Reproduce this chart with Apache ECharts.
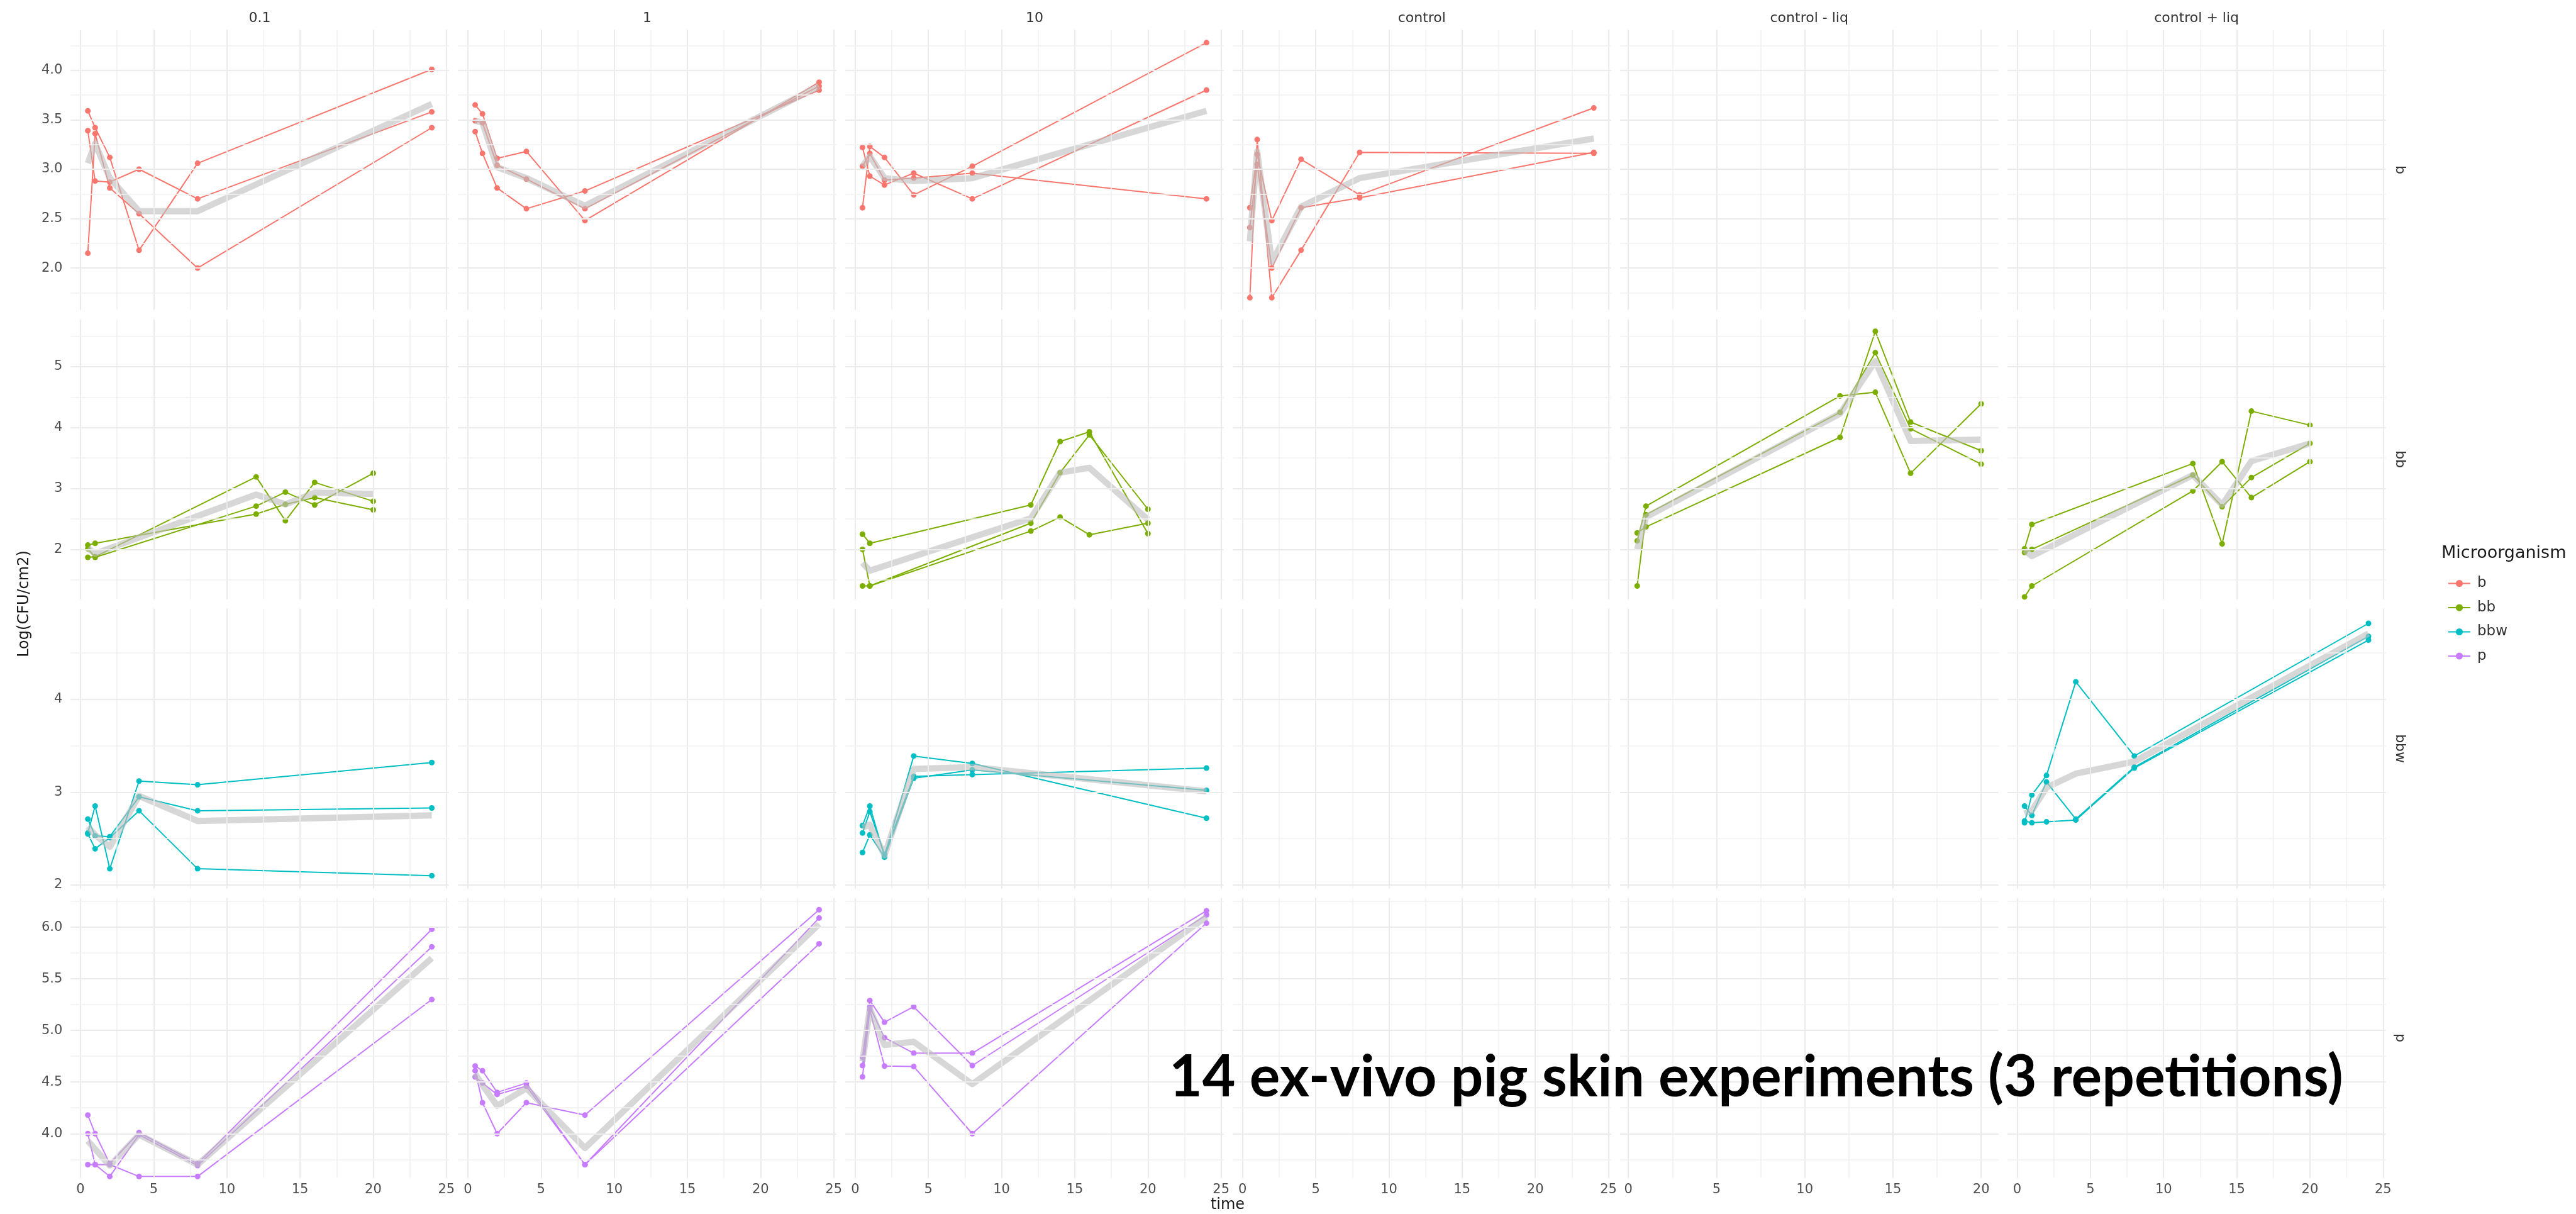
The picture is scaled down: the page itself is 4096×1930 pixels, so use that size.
<!DOCTYPE html>
<html>
<head>
<meta charset="utf-8">
<script src="https://cdn.jsdelivr.net/npm/echarts@6/dist/echarts.min.js"></script>
<style>
  html, body { margin: 0; padding: 0; background: #ffffff; }
  #chart { width: 4096px; height: 1930px; }
</style>
</head>
<body>
<div id="chart"></div>
<script>
// Facet columns (treatment) and rows (microorganism)
const treatments = ['0.1', '1', '10', 'control', 'control - liq', 'control + liq'];
const organisms = ['b', 'bb', 'bbw', 'p'];
const organismColors = ['#F8766D', '#7CAE00', '#00BFC4', '#C77CFF'];

// Sampling times (h)
const timesStd = [0.5, 1, 2, 4, 8, 24];
const timesBB = [0.5, 1, 12, 14, 16, 20];

// Log(CFU/cm2): three repetitions per experiment, plus the mean trace
const b_01 = [[3.59, 3.42, 3.12, 2.18, 3.06, 4.01], [3.39, 2.88, 2.87, 3.00, 2.70, 3.58], [2.15, 3.36, 2.81, 2.55, 2.00, 3.42]];
const b_01_mean = [3.06, 3.26, 2.91, 2.575, 2.575, 3.66];
const b_1 = [[3.65, 3.56, 3.11, 3.18, 2.48, 3.88], [3.49, 3.47, 3.04, 2.90, 2.60, 3.84], [3.38, 3.16, 2.81, 2.60, 2.78, 3.80]];
const b_1_mean = [3.49, 3.47, 3.02, 2.91, 2.63, 3.84];
const b_10 = [[2.61, 3.23, 3.12, 2.74, 3.03, 4.28], [3.22, 2.93, 2.84, 2.96, 2.70, 3.80], [3.03, 3.16, 2.89, 2.91, 2.96, 2.70]];
const b_10_mean = [3.03, 3.13, 2.91, 2.88, 2.91, 3.59];
const b_ctrl = [[1.70, 3.30, 1.70, 2.18, 3.17, 3.16], [2.61, 3.15, 2.48, 3.10, 2.74, 3.62], [2.41, 3.05, 2.00, 2.61, 2.71, 3.17]];
const b_ctrl_mean = [2.27, 3.18, 2.06, 2.62, 2.91, 3.31];

const bb_01 = [[2.07, 2.10, 2.58, 2.74, 2.85, 2.65], [2.01, 1.87, 2.71, 2.94, 2.73, 3.25], [1.87, 1.88, 3.19, 2.47, 3.10, 2.79]];
const bb_01_mean = [2.02, 1.93, 2.90, 2.74, 2.93, 2.91];
const bb_10 = [[2.25, 2.10, 2.73, 3.77, 3.93, 2.26], [2.00, 1.40, 2.43, 3.26, 3.88, 2.66], [1.40, 1.40, 2.30, 2.53, 2.24, 2.43]];
const bb_10_mean = [1.78, 1.65, 2.51, 3.26, 3.34, 2.49];
const bb_ctrlMinusLiq = [[2.14, 2.71, 4.52, 4.58, 3.25, 4.39], [2.27, 2.37, 3.84, 5.58, 4.09, 3.62], [1.40, 2.57, 4.25, 5.23, 3.98, 3.40]];
const bb_ctrlMinusLiq_mean = [2.00, 2.53, 4.23, 5.09, 3.78, 3.80];
const bb_ctrlPlusLiq = [[2.01, 2.41, 3.41, 2.09, 4.27, 4.04], [1.22, 1.40, 2.96, 3.44, 2.85, 3.44], [1.95, 2.00, 3.22, 2.70, 3.18, 3.74]];
const bb_ctrlPlusLiq_mean = [1.99, 1.89, 3.22, 2.73, 3.45, 3.74];

const bbw_01 = [[2.56, 2.85, 2.175, 3.12, 3.08, 3.32], [2.71, 2.53, 2.52, 2.95, 2.80, 2.83], [2.55, 2.39, 2.51, 2.80, 2.175, 2.10]];
const bbw_01_mean = [2.63, 2.54, 2.41, 2.96, 2.69, 2.75];
const bbw_10 = [[2.64, 2.85, 2.31, 3.39, 3.31, 2.72], [2.56, 2.79, 2.33, 3.17, 3.19, 3.26], [2.35, 2.54, 2.30, 3.15, 3.24, 3.02]];
const bbw_10_mean = [2.62, 2.65, 2.32, 3.25, 3.27, 3.01];
const bbw_ctrlPlusLiq = [[2.67, 2.97, 3.18, 4.19, 3.39, 4.82], [2.85, 2.75, 3.11, 2.71, 3.27, 4.68], [2.69, 2.67, 2.68, 2.70, 3.26, 4.64]];
const bbw_ctrlPlusLiq_mean = [2.77, 2.80, 3.05, 3.20, 3.33, 4.71];

const p_01 = [[4.18, 4.00, 3.71, 4.01, 3.71, 5.98], [4.00, 3.70, 3.585, 3.99, 3.69, 5.81], [3.70, 3.70, 3.70, 3.585, 3.585, 5.30]];
const p_01_mean = [3.93, 3.85, 3.69, 3.99, 3.70, 5.70];
const p_1 = [[4.655, 4.61, 4.40, 4.49, 3.70, 6.09], [4.61, 4.30, 4.00, 4.30, 4.18, 6.17], [4.55, 4.49, 4.38, 4.46, 3.70, 5.84]];
const p_1_mean = [4.58, 4.47, 4.27, 4.44, 3.86, 6.03];
const p_10 = [[4.74, 5.29, 5.08, 5.23, 4.66, 6.12], [4.66, 5.23, 4.93, 4.78, 4.78, 6.16], [4.55, 5.20, 4.655, 4.65, 4.00, 6.04]];
const p_10_mean = [4.70, 5.21, 4.86, 4.89, 4.48, 6.10];

// Panels that hold data: row = organism, col = treatment
const panels = [
  { row: 0, col: 0, t: timesStd, reps: b_01, mean: b_01_mean },
  { row: 0, col: 1, t: timesStd, reps: b_1, mean: b_1_mean },
  { row: 0, col: 2, t: timesStd, reps: b_10, mean: b_10_mean },
  { row: 0, col: 3, t: timesStd, reps: b_ctrl, mean: b_ctrl_mean },
  { row: 1, col: 0, t: timesBB, reps: bb_01, mean: bb_01_mean },
  { row: 1, col: 2, t: timesBB, reps: bb_10, mean: bb_10_mean },
  { row: 1, col: 4, t: timesBB, reps: bb_ctrlMinusLiq, mean: bb_ctrlMinusLiq_mean },
  { row: 1, col: 5, t: timesBB, reps: bb_ctrlPlusLiq, mean: bb_ctrlPlusLiq_mean },
  { row: 2, col: 0, t: timesStd, reps: bbw_01, mean: bbw_01_mean },
  { row: 2, col: 2, t: timesStd, reps: bbw_10, mean: bbw_10_mean },
  { row: 2, col: 5, t: timesStd, reps: bbw_ctrlPlusLiq, mean: bbw_ctrlPlusLiq_mean },
  { row: 3, col: 0, t: timesStd, reps: p_01, mean: p_01_mean },
  { row: 3, col: 1, t: timesStd, reps: p_1, mean: p_1_mean },
  { row: 3, col: 2, t: timesStd, reps: p_10, mean: p_10_mean }
];

// ---- layout ----
const PANEL_LEFT = 112.3, PANEL_PITCH_X = 615.9, PANEL_W = 601.6;
const PANEL_TOP = 47.4, PANEL_PITCH_Y = 460, PANEL_H = 445.4;
const FONT = 'DejaVu Sans';
const TICK_COLOR = '#4d4d4d';

// x range per column (free scales), y range per row
const xRange = [[-0.675, 25.175], [-0.675, 25.175], [-0.675, 25.175], [-0.675, 25.175], [-0.475, 20.975], [-0.675, 25.175]];
const yRange = [[1.576, 4.41], [1.18, 5.78], [1.96, 4.98], [3.57, 6.285]];
const ySplit = [5, 5, 3, 5];
const yMajorStep = [0.5, 1, 1, 0.5];

function steps(lo, hi, step, offset) {
  const out = [];
  const start = Math.ceil((lo - offset) / step - 1e-9);
  for (let k = start; offset + k * step <= hi + 1e-9; k++) out.push(+(offset + k * step).toFixed(4));
  return out;
}

const grids = [], xAxes = [], yAxes = [], series = [];

for (let j = 0; j < 4; j++) {
  for (let i = 0; i < 6; i++) {
    const k = j * 6 + i;
    grids.push({
      left: PANEL_LEFT + i * PANEL_PITCH_X,
      top: PANEL_TOP + j * PANEL_PITCH_Y,
      width: PANEL_W,
      height: PANEL_H,
      containLabel: false
    });
    xAxes.push({
      type: 'value', gridIndex: k, min: xRange[i][0], max: xRange[i][1], splitNumber: 5,
      axisLine: { show: false }, axisTick: { show: false }, splitLine: { show: false },
      axisLabel: {
        show: j === 3, showMinLabel: false, showMaxLabel: false, margin: 8,
        fontSize: 21, fontFamily: FONT, color: TICK_COLOR,
        formatter: v => String(v)
      }
    });
    yAxes.push({
      type: 'value', gridIndex: k, min: yRange[j][0], max: yRange[j][1], splitNumber: ySplit[j],
      axisLine: { show: false }, axisTick: { show: false }, splitLine: { show: false },
      axisLabel: {
        show: i === 0, showMinLabel: false, showMaxLabel: false, margin: 13,
        fontSize: 21, fontFamily: FONT, color: TICK_COLOR,
        formatter: v => (yMajorStep[j] < 1 ? v.toFixed(1) : String(v))
      }
    });

    // panel grid: major and minor lines
    const xs = xRange[i], ys = yRange[j];
    const lines = [];
    steps(xs[0], xs[1], 5, 2.5).forEach(v => lines.push({ xAxis: v, lineStyle: { color: '#f1f1f1', width: 1.5, type: 'solid' } }));
    steps(xs[0], xs[1], 5, 0).forEach(v => lines.push({ xAxis: v, lineStyle: { color: '#ebebeb', width: 2, type: 'solid' } }));
    steps(ys[0], ys[1], yMajorStep[j], yMajorStep[j] / 2).forEach(v => lines.push({ yAxis: v, lineStyle: { color: '#f1f1f1', width: 1.5, type: 'solid' } }));
    steps(ys[0], ys[1], yMajorStep[j], 0).forEach(v => lines.push({ yAxis: v, lineStyle: { color: '#ebebeb', width: 2, type: 'solid' } }));
    series.push({
      type: 'line', name: 'grid' + k, xAxisIndex: k, yAxisIndex: k, data: [], silent: true, z: 1,
      animation: false,
      markLine: {
        silent: true, symbol: ['none', 'none'], label: { show: false }, animation: false,
        emphasis: { disabled: true },
        data: lines
      }
    });
  }
}

panels.forEach(p => {
  const k = p.row * 6 + p.col;
  const color = organismColors[p.row];
  p.reps.forEach(rep => {
    series.push({
      type: 'line', name: organisms[p.row], xAxisIndex: k, yAxisIndex: k,
      data: p.t.map((x, idx) => [x, rep[idx]]),
      symbol: 'circle', symbolSize: 9, showSymbol: true,
      lineStyle: { color: color, width: 2 },
      itemStyle: { color: color },
      emphasis: { disabled: true }, animation: false, z: 3
    });
  });
  series.push({
    type: 'line', name: 'mean', xAxisIndex: k, yAxisIndex: k,
    data: p.t.map((x, idx) => [x, p.mean[idx]]),
    symbol: 'none',
    lineStyle: { color: 'rgba(190,190,190,0.62)', width: 10, cap: 'butt', join: 'round' },
    emphasis: { disabled: true }, animation: false, silent: true, z: 4
  });
});

// ---- text ----
const graphics = [];
treatments.forEach((name, i) => {
  graphics.push({
    type: 'text', x: PANEL_LEFT + i * PANEL_PITCH_X + PANEL_W / 2, y: 29,
    style: { text: name, fontSize: 22, fontFamily: FONT, fill: '#333333',
      textAlign: 'center', align: 'center', textVerticalAlign: 'middle', verticalAlign: 'middle' }
  });
});
organisms.forEach((name, j) => {
  graphics.push({
    type: 'text', x: 3816, y: PANEL_TOP + j * PANEL_PITCH_Y + PANEL_H / 2, rotation: -Math.PI / 2,
    style: { text: name, fontSize: 22, fontFamily: FONT, fill: '#333333',
      textAlign: 'center', align: 'center', textVerticalAlign: 'middle', verticalAlign: 'middle' }
  });
});
graphics.push({
  type: 'text', x: 39, y: 960, rotation: Math.PI / 2,
  style: { text: 'Log(CFU/cm2)', fontSize: 24, fontFamily: FONT, fill: '#1a1a1a',
    textAlign: 'center', align: 'center', textVerticalAlign: 'middle', verticalAlign: 'middle' }
});
graphics.push({
  type: 'text', x: 1952, y: 1916,
  style: { text: 'time', fontSize: 24, fontFamily: FONT, fill: '#1a1a1a',
    textAlign: 'center', align: 'center', textVerticalAlign: 'middle', verticalAlign: 'middle' }
});
graphics.push({
  type: 'text', x: 3882, y: 880,
  style: { text: 'Microorganism', fontSize: 27, fontFamily: FONT, fill: '#1a1a1a',
    textAlign: 'left', align: 'left', textVerticalAlign: 'middle', verticalAlign: 'middle' }
});
graphics.push({
  type: 'text', x: 1859, y: 1714, z: 100,
  style: { text: '14 ex-vivo pig skin experiments (3 repetitions)', fontSize: 91, fontWeight: 700,
    fontFamily: 'Lato', fill: '#000000',
    textAlign: 'left', align: 'left', textVerticalAlign: 'middle', verticalAlign: 'middle' }
});

const chart = echarts.init(document.getElementById('chart'), null, { renderer: 'canvas', width: 4096, height: 1930 });
chart.setOption({
  backgroundColor: '#ffffff',
  animation: false,
  grid: grids,
  xAxis: xAxes,
  yAxis: yAxes,
  legend: {
    data: organisms, orient: 'vertical', left: 3887, top: 911,
    itemWidth: 35, itemHeight: 14, itemGap: 15.5, selectedMode: false,
    textStyle: { fontSize: 23, fontFamily: FONT, color: '#333333', padding: [0, 0, 0, 6] }
  },
  graphic: graphics,
  series: series
});
</script>
</body>
</html>
